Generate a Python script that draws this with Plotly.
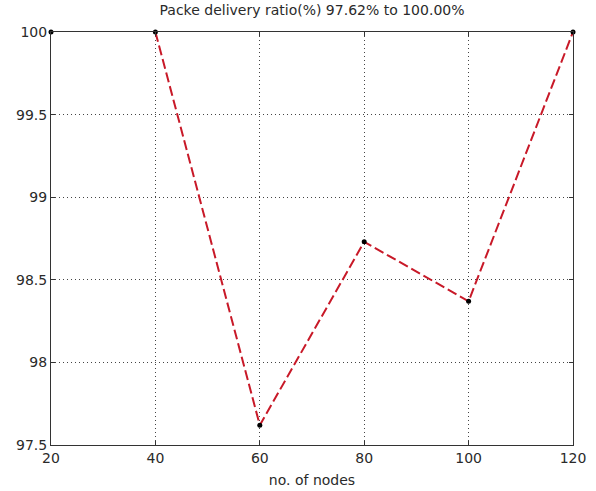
import plotly.graph_objects as go

# Packet delivery ratio per network size
nodes = [20, 40, 60, 80, 100, 120]
pdr = [100.0, 100.0, 97.62, 98.73, 98.37, 100.0]

x_ticks = [20, 40, 60, 80, 100, 120]
x_tick_text = ["20", "40", "60", "80", "100", "120"]
y_ticks = [97.5, 98, 98.5, 99, 99.5, 100]
y_tick_text = ["97.5", "98", "98.5", "99", "99.5", "100"]

font = dict(family="DejaVu Sans, sans-serif", size=14, color="#2a2a2a")

fig = go.Figure()

# dashed red trace across the measured sizes
fig.add_trace(go.Scatter(
    x=nodes[1:], y=pdr[1:], mode="lines",
    line=dict(color="rgb(200,25,40)", width=2, dash="10px,4px"),
    hoverinfo="skip", showlegend=False,
))

# black point markers
fig.add_trace(go.Scatter(
    x=nodes, y=pdr, mode="markers",
    marker=dict(color="black", size=5),
    showlegend=False, cliponaxis=False,
))

axis_common = dict(
    showline=True, linecolor="#333", linewidth=1, mirror="ticks",
    ticks="inside", ticklen=4, tickcolor="#333",
    showgrid=True, gridcolor="#444", gridwidth=1, griddash="1px,3px",
    zeroline=False, tickfont=font, automargin=False,
)

fig.update_xaxes(range=[20, 120], tickvals=x_ticks, ticktext=x_tick_text,
                 title=dict(text="no. of nodes", font=font, standoff=10),
                 **axis_common)
fig.update_yaxes(range=[97.5, 100], tickvals=y_ticks, ticktext=y_tick_text,
                 **axis_common)

fig.update_layout(
    width=596, height=491,
    margin=dict(l=51, r=23, t=32, b=46),
    paper_bgcolor="white", plot_bgcolor="white",
    font=font,
    title=dict(text="Packe delivery ratio(%) 97.62% to 100.00%",
               x=0.5, xref="paper", y=1, yref="container",
               yanchor="top", pad=dict(t=5), font=font),
)

fig.write_html("out.html")
